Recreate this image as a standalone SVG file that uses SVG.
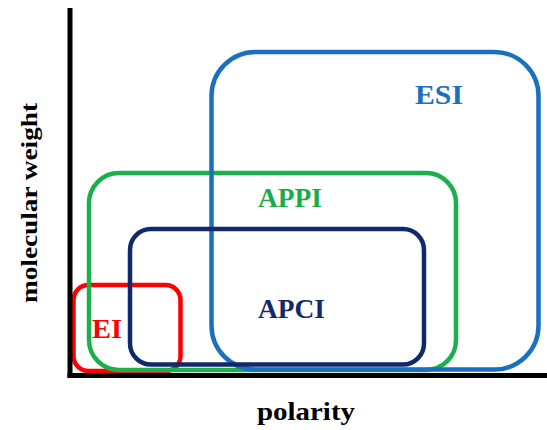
<svg xmlns="http://www.w3.org/2000/svg" width="547" height="430" viewBox="0 0 547 430">
  <style>
    .box { fill: none; stroke-width: 4.5; }
    text { font-family: 'Liberation Serif', 'Times New Roman', Times, serif; font-weight: 700; }
    .label { font-size: 28px; }
  </style>
  <rect width="547" height="430" fill="#fff"/>

  <!-- ionization ranges -->
  <g id="ei">
    <rect class="box" x="73.5" y="285" width="107" height="86" rx="15" stroke="#ff0000"/>
    <text class="label" x="92" y="338" fill="#ff0000" textLength="30" lengthAdjust="spacingAndGlyphs">EI</text>
  </g>
  <g id="appi">
    <rect class="box" x="89" y="173" width="367" height="197" rx="30" stroke="#1bb04b"/>
    <text class="label" x="258" y="207" fill="#1bab4a" textLength="64" lengthAdjust="spacingAndGlyphs">APPI</text>
  </g>
  <g id="esi">
    <rect class="box" x="211.5" y="52" width="327" height="317.5" rx="44" stroke="#1a70c0"/>
    <text class="label" x="415" y="104" fill="#1a6fbf" textLength="48" lengthAdjust="spacingAndGlyphs">ESI</text>
  </g>
  <g id="apci">
    <rect class="box" x="130" y="229" width="294" height="135.5" rx="21" stroke="#10296b"/>
    <text class="label" x="258" y="318" fill="#13296a" textLength="67" lengthAdjust="spacingAndGlyphs">APCI</text>
  </g>

  <!-- axes -->
  <g id="axes" stroke="#000" stroke-width="5" fill="none">
    <line x1="70" y1="8" x2="70" y2="378"/>
    <line x1="67.5" y1="375.5" x2="547" y2="375.5"/>
  </g>

  <text x="257" y="420" font-size="26" fill="#000" textLength="98" lengthAdjust="spacingAndGlyphs">polarity</text>
  <text transform="translate(36.5 303) rotate(-90)" font-size="24" fill="#000" textLength="200" lengthAdjust="spacingAndGlyphs">molecular weight</text>
</svg>
